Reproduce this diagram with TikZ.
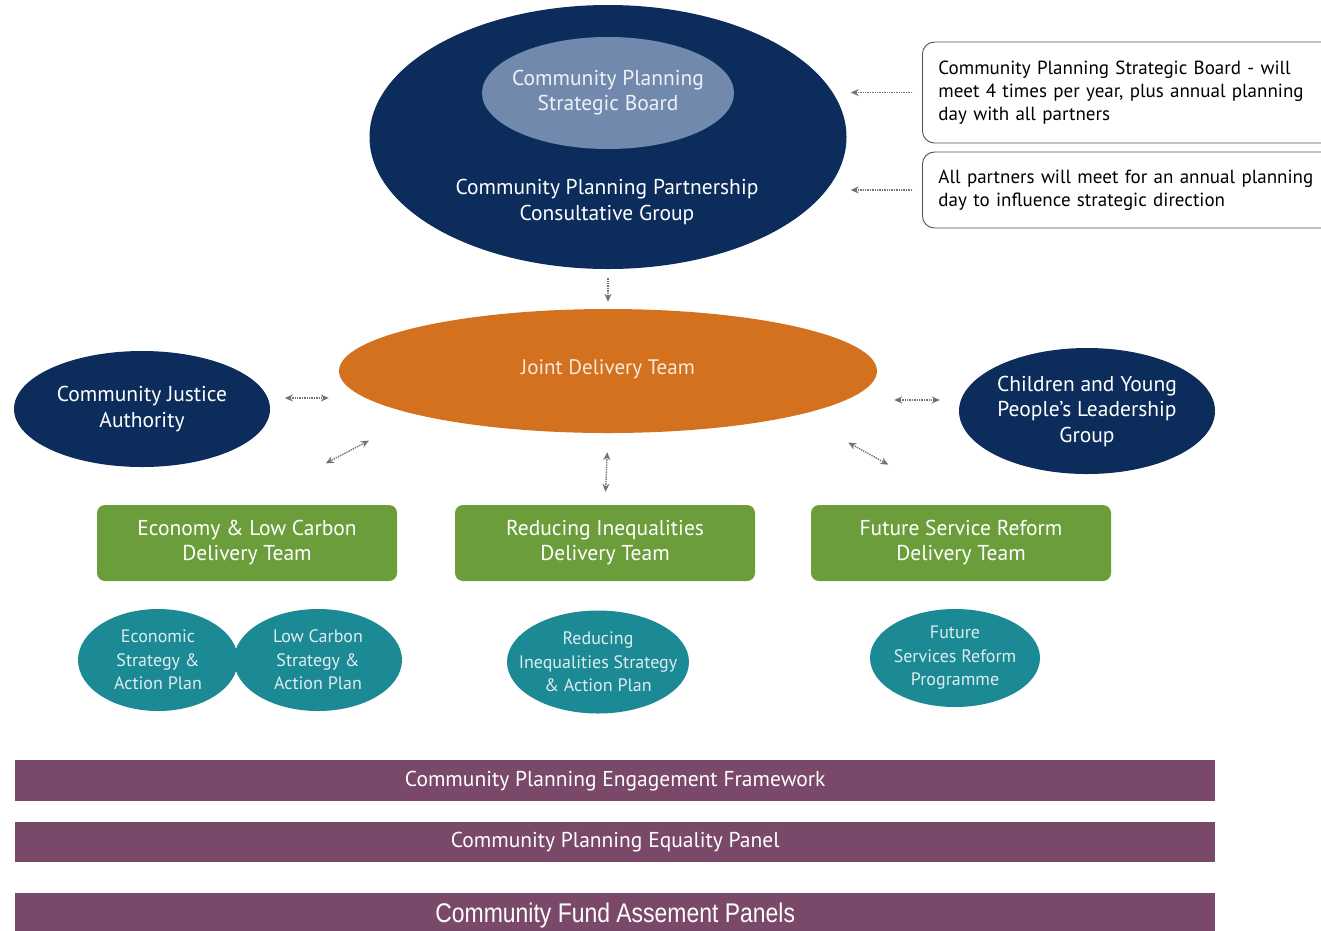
\documentclass[tikz,border=0pt]{standalone}
\usepackage{fontspec}
\setmainfont{PT Sans}
\newfontfamily\panelfont[FakeStretch=0.85]{Liberation Sans}
\usetikzlibrary{arrows.meta,shapes.geometric}

\definecolor{navy}{HTML}{0C2D5C}
\definecolor{slate}{HTML}{7189AD}
\definecolor{jdtorange}{HTML}{D3711E}
\definecolor{teamgreen}{HTML}{6B9E3A}
\definecolor{planteal}{HTML}{1C8A95}
\definecolor{panelpurple}{HTML}{7A4868}
\definecolor{linkgrey}{HTML}{6E737A}
\definecolor{notegrey}{HTML}{4A4F57}

\begin{document}
\begin{tikzpicture}[x=1pt,y=-1pt,
    oval/.style={ellipse, inner sep=0pt, fill=#1},
    txt/.style={align=center, inner sep=0pt, text=white},
    team/.style={rectangle, rounded corners=8pt, fill=teamgreen, minimum width=300pt,
      minimum height=76pt, inner sep=0pt, align=center, text=white},
    note/.style={rectangle, rounded corners=12pt, draw=notegrey, line width=0.9pt,
      minimum width=418pt, text width=386pt, inner xsep=16pt, align=left, anchor=west},
    panel/.style={rectangle, fill=panelpurple, minimum width=1200pt, inner sep=0pt,
      text=white, anchor=north west},
    link/.style={draw=linkgrey, densely dotted, line width=1.4pt,
      -{Stealth[length=8pt,width=7pt]}},
    twoway/.style={link, {Stealth[length=8pt,width=7pt]}-{Stealth[length=8pt,width=7pt]}}]
    \useasboundingbox (0,0) rectangle (1321,930);
    \clip (0,0) rectangle (1321,930);

    % partnership and board
    \node[oval=navy, minimum width=477pt, minimum height=264pt] (cppcg) at (608,137) {};
    \node[oval=slate, minimum width=252pt, minimum height=112pt] (cpsb) at (608,93) {};
    \node[txt, text=white!88!slate, font=\fontsize{21.5}{25}\selectfont] (cpsbtext) at (cpsb)
      {Community Planning\\Strategic Board};
    \node[txt, font=\fontsize{21.5}{26}\selectfont] (cppcgtext) at (607,202)
      {Community Planning Partnership\\Consultative Group};

    % notes on the right
    \node[note, minimum height=101pt, font=\fontsize{19}{23}\selectfont] (boardnote) at (922,92.5)
      {Community Planning Strategic Board - will meet 4 times per year, plus annual planning day with all partners};
    \node[note, minimum height=76pt, font=\fontsize{19}{23}\selectfont] (daynote) at (922,190)
      {All partners will meet for an annual planning day to influence strategic direction};
    \draw[link, shorten <=10pt, shorten >=4pt] (boardnote.west) -- (cppcg.east |- boardnote.west);
    \draw[link, shorten <=10pt, shorten >=4pt] (daynote.west) -- (cppcg.east |- daynote.west);

    % delivery level
    \node[oval=jdtorange, minimum width=538pt, minimum height=124pt] (jdt) at (608,371) {};
    \node[txt, text=white!85!jdtorange, font=\fontsize{21}{26}\selectfont] (jdttext) at (608,369)
      {Joint Delivery Team};
    \node[oval=navy, minimum width=256pt, minimum height=116pt] (cja) at (142,409) {};
    \node[txt, font=\fontsize{21.5}{26}\selectfont] (cjatext) at (cja) {Community Justice\\Authority};
    \node[oval=navy, minimum width=256pt, minimum height=126pt] (cyp) at (1087,411) {};
    \node[txt, font=\fontsize{21.5}{25.5}\selectfont] (cyptext) at (cyp)
      {Children and Young\\People's Leadership\\Group};

    \draw[link, shorten <=9pt, shorten >=7pt] (cppcg.south) -- (jdt.north);
    \draw[twoway, shorten <=17pt, shorten >=10pt] (cja.5) -- (cja.5 -| jdt.west);
    \draw[twoway, shorten <=21pt, shorten >=17pt] (cyp.175) -- (cyp.175 -| jdt.east);

    % delivery teams
    \node[team, font=\fontsize{21.5}{25}\selectfont] (eco) at (247,543) {Economy \& Low Carbon\\Delivery Team};
    \node[team, font=\fontsize{21.5}{25}\selectfont] (red) at (605,543) {Reducing Inequalities\\Delivery Team};
    \node[team, font=\fontsize{21.5}{25}\selectfont] (fsr) at (961,543) {Future Service Reform\\Delivery Team};
    \draw[twoway, shorten <=55pt, shorten >=89pt] (jdt.south west) -- (eco.north);
    \draw[twoway, shorten <=19pt, shorten >=13pt] (jdt.south) -- (red.north);
    \draw[twoway, shorten <=57pt, shorten >=83pt] (jdt.south east) -- (fsr.north);

    % strategies and plans
    \node[oval=planteal, minimum width=160pt, minimum height=102pt] (ecoplan) at (158,660) {};
    \node[oval=planteal, minimum width=168pt, minimum height=102pt] (lcplan) at (318,660) {};
    \node[oval=planteal, minimum width=182pt, minimum height=103pt] (redplan) at (598,662) {};
    \node[oval=planteal, minimum width=170pt, minimum height=98pt] (fsrplan) at (955,658) {};
    \foreach \plan/\words in {ecoplan/{Economic\\Strategy \&\\Action Plan},
        lcplan/{Low Carbon\\Strategy \&\\Action Plan},
        redplan/{Reducing\\Inequalities Strategy\\\& Action Plan},
        fsrplan/{Future\\Services Reform\\Programme}} {
      \node[txt, text=white!85!planteal, font=\fontsize{18}{23.5}\selectfont] (\plan text) at (\plan) {\words};
    }

    % panels
    \node[panel, minimum height=41pt, font=\fontsize{21.5}{25}\selectfont] (engage) at (15,760)
      {Community Planning Engagement Framework};
    \node[panel, minimum height=40pt, font=\fontsize{21.5}{25}\selectfont] (equality) at (15,822)
      {Community Planning Equality Panel};
    \node[panel, minimum height=44pt, font=\panelfont\fontsize{27}{30}\selectfont] (fund) at (15,893)
      {Community Fund Assement Panels};
  \end{tikzpicture}
\end{document}
